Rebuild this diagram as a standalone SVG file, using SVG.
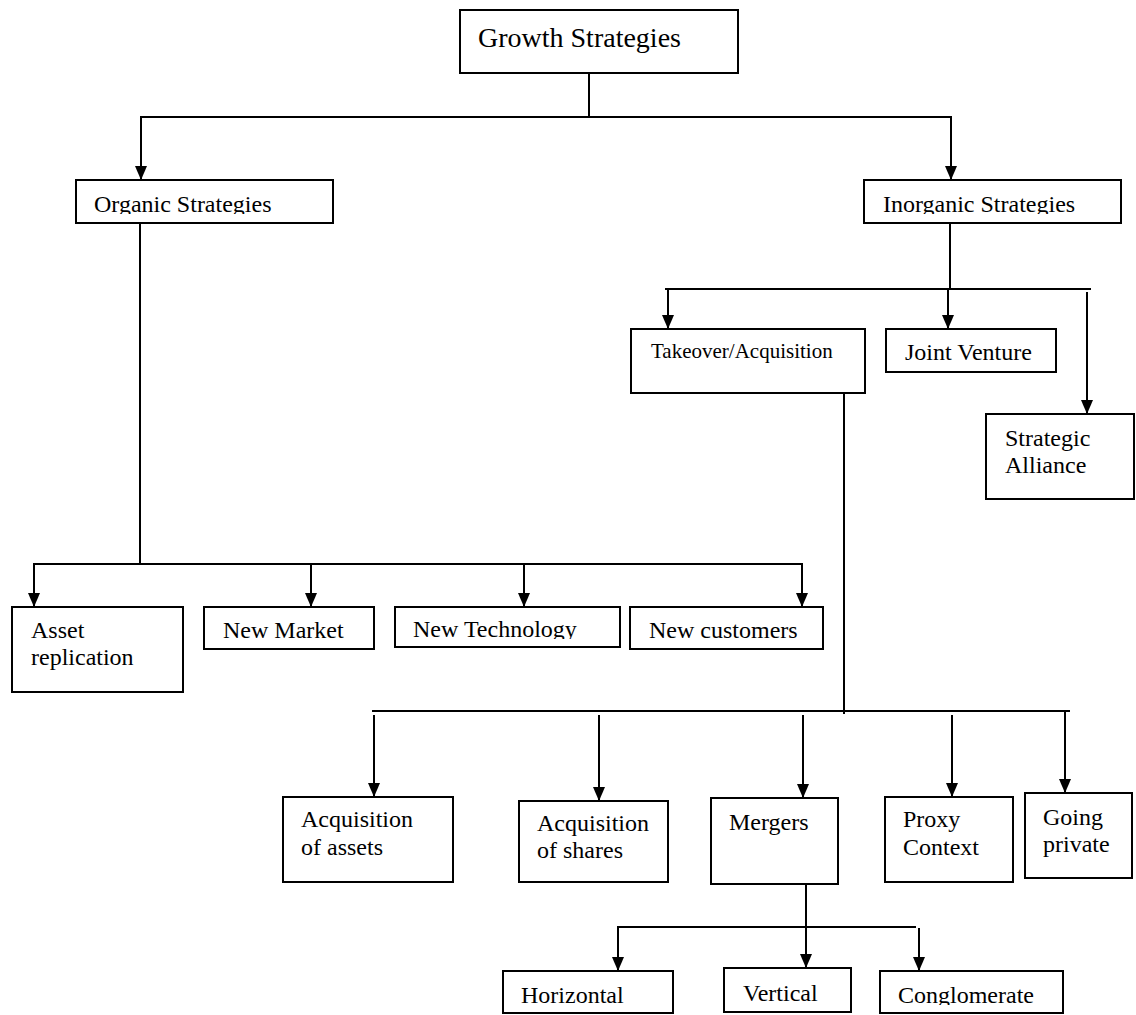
<svg xmlns="http://www.w3.org/2000/svg" width="1136" height="1015" viewBox="0 0 1136 1015">
<style>
  .box { fill: #fff; stroke: #000; stroke-width: 2; }
  .t { font-family: "Liberation Serif", "Times New Roman", serif; font-size: 24px; fill: #000; }
  .big { font-size: 28px; }
  .sm { font-size: 21px; }
  .c line { stroke: #000; stroke-width: 2; }
  .c line.a { marker-end: url(#arr); }
</style>
<defs>
  <marker id="arr" viewBox="0 0 14 12" refX="14" refY="6" markerWidth="14" markerHeight="12" markerUnits="userSpaceOnUse" orient="auto">
    <path d="M0,0 L14,6 L0,12 z" fill="#000"/>
  </marker>
  <clipPath id="clipOrg"><rect x="76" y="180" width="257" height="34"/></clipPath>
  <clipPath id="clipInorg"><rect x="864" y="180" width="257" height="34"/></clipPath>
  <clipPath id="clipTech"><rect x="395" y="607" width="225" height="32"/></clipPath>
  <clipPath id="clipCong"><rect x="880" y="971" width="183" height="34"/></clipPath>
</defs>
<rect width="1136" height="1015" fill="#fff"/>

<g class="c" id="connectors">
  <line x1="589" y1="73" x2="589" y2="117"/>
  <line x1="140" y1="117" x2="952" y2="117"/>
  <line class="a" x1="141" y1="117" x2="141" y2="180"/>
  <line class="a" x1="951" y1="117" x2="951" y2="180"/>

  <line x1="140" y1="223" x2="140" y2="564"/>
  <line x1="33" y1="564" x2="803" y2="564"/>
  <line class="a" x1="34" y1="564" x2="34" y2="607"/>
  <line class="a" x1="311" y1="564" x2="311" y2="607"/>
  <line class="a" x1="524" y1="564" x2="524" y2="607"/>
  <line class="a" x1="802" y1="564" x2="802" y2="607"/>

  <line x1="950" y1="223" x2="950" y2="289"/>
  <line x1="665" y1="289" x2="1091" y2="289"/>
  <line class="a" x1="668" y1="289" x2="668" y2="329"/>
  <line class="a" x1="948" y1="289" x2="948" y2="329"/>
  <line class="a" x1="1087" y1="292" x2="1087" y2="414"/>

  <line x1="844" y1="393" x2="844" y2="714"/>
  <line x1="372" y1="711" x2="1070" y2="711"/>
  <line class="a" x1="374" y1="715" x2="374" y2="797"/>
  <line class="a" x1="599" y1="715" x2="599" y2="801"/>
  <line class="a" x1="803" y1="715" x2="803" y2="798"/>
  <line class="a" x1="952" y1="715" x2="952" y2="797"/>
  <line class="a" x1="1065" y1="712" x2="1065" y2="793"/>

  <line class="a" x1="806" y1="883" x2="806" y2="968"/>
  <line x1="617" y1="927" x2="916" y2="927"/>
  <line class="a" x1="618" y1="927" x2="618" y2="971"/>
  <line class="a" x1="919" y1="928" x2="919" y2="971"/>
</g>

<g id="growth">
  <rect class="box" x="460" y="10" width="278" height="63"/>
  <text class="t big" x="478" y="47">Growth Strategies</text>
</g>
<g id="organic">
  <rect class="box" x="76" y="180" width="257" height="43"/>
  <text class="t" x="94" y="212" clip-path="url(#clipOrg)">Organic Strategies</text>
</g>
<g id="inorganic">
  <rect class="box" x="864" y="180" width="257" height="43"/>
  <text class="t" x="883" y="212" clip-path="url(#clipInorg)">Inorganic Strategies</text>
</g>
<g id="asset">
  <rect class="box" x="12" y="607" width="171" height="85"/>
  <text class="t" x="31" y="638">Asset</text>
  <text class="t" x="31" y="665">replication</text>
</g>
<g id="newmarket">
  <rect class="box" x="204" y="607" width="170" height="42"/>
  <text class="t" x="223" y="638">New Market</text>
</g>
<g id="newtech">
  <rect class="box" x="395" y="607" width="225" height="40"/>
  <text class="t" x="413" y="637" clip-path="url(#clipTech)">New Technology</text>
</g>
<g id="newcust">
  <rect class="box" x="630" y="607" width="193" height="42"/>
  <text class="t" x="649" y="638">New customers</text>
</g>
<g id="takeover">
  <rect class="box" x="631" y="329" width="234" height="64"/>
  <text class="t sm" x="651" y="358">Takeover/Acquisition</text>
</g>
<g id="jv">
  <rect class="box" x="886" y="329" width="170" height="43"/>
  <text class="t" x="905" y="360">Joint Venture</text>
</g>
<g id="alliance">
  <rect class="box" x="986" y="414" width="148" height="85"/>
  <text class="t" x="1005" y="446">Strategic</text>
  <text class="t" x="1005" y="473">Alliance</text>
</g>
<g id="acqassets">
  <rect class="box" x="283" y="797" width="170" height="85"/>
  <text class="t" x="301" y="827">Acquisition</text>
  <text class="t" x="301" y="855">of assets</text>
</g>
<g id="acqshares">
  <rect class="box" x="519" y="801" width="149" height="81"/>
  <text class="t" x="537" y="831">Acquisition</text>
  <text class="t" x="537" y="858">of shares</text>
</g>
<g id="mergers">
  <rect class="box" x="711" y="798" width="127" height="86"/>
  <text class="t" x="729" y="830">Mergers</text>
</g>
<g id="proxy">
  <rect class="box" x="885" y="797" width="128" height="85"/>
  <text class="t" x="903" y="827">Proxy</text>
  <text class="t" x="903" y="855">Context</text>
</g>
<g id="private">
  <rect class="box" x="1025" y="793" width="107" height="85"/>
  <text class="t" x="1043" y="825">Going</text>
  <text class="t" x="1043" y="852">private</text>
</g>
<g id="horizontal">
  <rect class="box" x="503" y="971" width="170" height="42"/>
  <text class="t" x="521" y="1003">Horizontal</text>
</g>
<g id="vertical">
  <rect class="box" x="724" y="968" width="127" height="44"/>
  <text class="t" x="743" y="1001">Vertical</text>
</g>
<g id="conglomerate">
  <rect class="box" x="880" y="971" width="183" height="42"/>
  <text class="t" x="898" y="1003" clip-path="url(#clipCong)">Conglomerate</text>
</g>
</svg>
